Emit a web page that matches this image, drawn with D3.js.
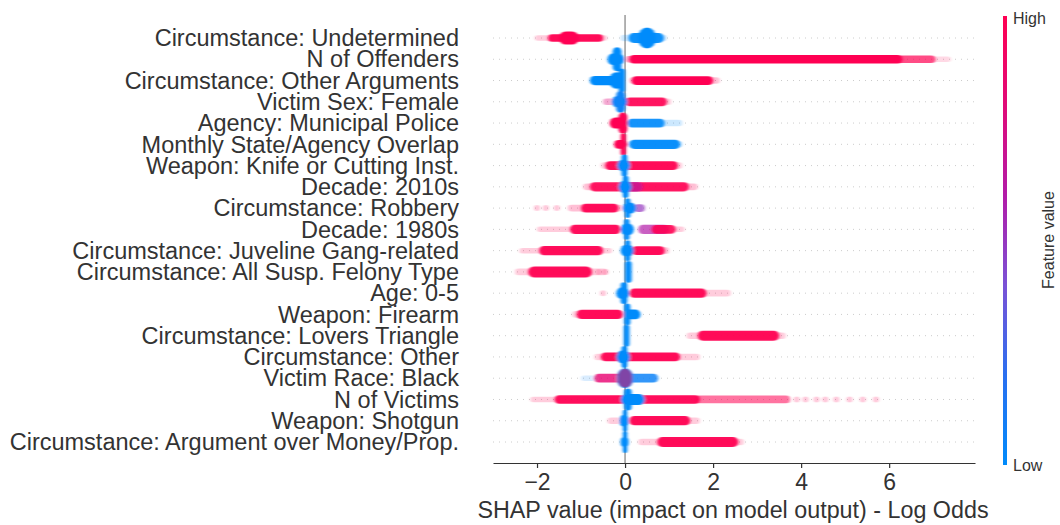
<!DOCTYPE html>
<html>
<head>
<meta charset="utf-8">
<script src="https://cdn.jsdelivr.net/npm/d3@7"></script>
<style>
  body { margin: 0; background: #fff; }
  svg { font-family: "Liberation Sans", Arial, sans-serif; }
</style>
</head>
<body>
<svg width="1060" height="525"></svg>
<script>
// SHAP summary (beeswarm) plot

var features = [
    "Circumstance: Undetermined",
    "N of Offenders",
    "Circumstance: Other Arguments",
    "Victim Sex: Female",
    "Agency: Municipal Police",
    "Monthly State/Agency Overlap",
    "Weapon: Knife or Cutting Inst.",
    "Decade: 2010s",
    "Circumstance: Robbery",
    "Decade: 1980s",
    "Circumstance: Juveline Gang-related",
    "Circumstance: All Susp. Felony Type",
    "Age: 0-5",
    "Weapon: Firearm",
    "Circumstance: Lovers Triangle",
    "Circumstance: Other",
    "Victim Race: Black",
    "N of Victims",
    "Weapon: Shotgun",
    "Circumstance: Argument over Money/Prop."
];

var xTicks = [-2, 0, 2, 4, 6];

// clusters of points: [feature index, shap from, shap to, density (0-1), feature value (0 low - 1 high), opacity]
var clusters = [
    [0, -2.05, -0.4, 0.25, 1, 0.2], [0, -1.75, -0.5, 0.35, 1, 0.95], [0, -1.5, -1.05, 0.6, 1, 1],
    [0, -0.1, 0.95, 0.3, 0, 0.2], [0, 0.08, 0.88, 0.45, 0, 0.95], [0, 0.3, 0.7, 0.95, 0, 1],

    [1, -0.4, -0.02, 0.55, 0, 1], [1, -0.28, -0.08, 1.1, 0, 1],
    [1, 0.0, 0.3, 0.3, 1, 0.4], [1, 0.1, 6.3, 0.38, 1, 1], [1, 6.2, 7.05, 0.35, 1, 0.7], [1, 7.0, 7.4, 0.25, 1, 0.15],

    [2, 0.1, 2.15, 0.3, 1, 0.25], [2, 0.15, 2.0, 0.4, 1, 1],
    [2, -0.8, -0.02, 0.42, 0, 1], [2, -0.35, -0.05, 0.75, 0, 1], [2, -0.15, 0, 1.1, 0, 1],

    [3, -0.5, -0.1, 0.3, 0.8, 0.35], [3, -0.05, 1.05, 0.3, 1, 0.2], [3, 0.0, 0.95, 0.4, 1, 0.9],
    [3, -0.3, 0.05, 0.55, 0.05, 1], [3, -0.2, 0.0, 1.0, 0.05, 1],

    [4, 0.05, 1.3, 0.3, 0, 0.2], [4, 0.05, 0.9, 0.4, 0, 0.9],
    [4, -0.35, 0.05, 0.5, 1, 1], [4, -0.15, 0.05, 0.95, 1, 1],

    [5, 0.05, 1.3, 0.3, 0, 0.25], [5, 0.1, 1.25, 0.42, 0, 0.95],
    [5, -0.25, 0.05, 0.4, 1, 1], [5, -0.1, 0.02, 1.0, 1, 1],

    [6, -0.55, 1.3, 0.3, 1, 0.2], [6, -0.45, 1.2, 0.4, 1, 0.95],
    [6, -0.18, 0.12, 0.55, 0, 1], [6, -0.08, 0.05, 1.0, 0, 1],

    [7, -0.95, 1.65, 0.3, 1, 0.25], [7, -0.8, 1.45, 0.42, 1, 0.9], [7, -0.1, 0.4, 0.45, 0.6, 0.6],
    [7, -0.15, 0.15, 0.6, 0, 1], [7, -0.05, 0.08, 1.0, 0, 1],

    [8, -1.3, -0.05, 0.3, 1, 0.25], [8, -1.0, -0.15, 0.4, 1, 0.95],
    [8, 0.2, 0.45, 0.35, 0.5, 0.7],
    [8, -0.05, 0.25, 0.5, 0, 1], [8, 0.0, 0.12, 0.9, 0, 1],

    [9, -2.0, -1.2, 0.25, 1, 0.2], [9, -1.25, -0.1, 0.42, 1, 0.95],
    [9, 0.3, 1.0, 0.42, 0.6, 0.7], [9, 0.6, 1.15, 0.4, 1, 0.9], [9, 1.1, 1.35, 0.25, 1, 0.2],
    [9, -0.1, 0.2, 0.55, 0, 1], [9, -0.02, 0.1, 0.95, 0, 1],

    [10, -2.4, -0.3, 0.25, 1, 0.2], [10, -1.95, -0.5, 0.42, 1, 0.95],
    [10, 0.15, 1.0, 0.3, 1, 0.25], [10, 0.15, 0.9, 0.4, 1, 0.95],
    [10, -0.1, 0.2, 0.55, 0, 1], [10, 0.0, 0.12, 0.95, 0, 1],

    [11, -2.5, -0.4, 0.3, 1, 0.2], [11, -2.2, -0.75, 0.5, 1, 0.95],
    [11, 0.0, 0.15, 1.0, 0, 1],

    [12, 0.1, 2.4, 0.3, 1, 0.2], [12, 0.1, 1.85, 0.42, 1, 0.95],
    [12, -0.2, 0.1, 0.55, 0, 1], [12, -0.1, 0.05, 1.0, 0, 1],

    [13, -1.2, 0.0, 0.3, 1, 0.2], [13, -1.1, -0.05, 0.42, 1, 0.95],
    [13, 0.0, 0.35, 0.45, 0, 1], [13, -0.02, 0.12, 1.0, 0, 1],

    [14, 1.4, 3.65, 0.3, 1, 0.2], [14, 1.65, 3.5, 0.45, 1, 0.95],
    [14, -0.03, 0.1, 1.0, 0, 1],

    [15, -0.7, 1.7, 0.3, 1, 0.2], [15, -0.55, 1.25, 0.4, 1, 0.95],
    [15, -0.2, 0.12, 0.6, 0, 1], [15, -0.08, 0.05, 1.0, 0, 1],

    [16, -1.0, -0.6, 0.25, 0.1, 0.15], [16, -0.7, -0.05, 0.4, 0.85, 0.8],
    [16, 0.05, 0.75, 0.4, 0.05, 0.85],
    [16, -0.18, 0.18, 0.9, 0, 1], [16, -0.16, 0.16, 0.85, 1, 0.5],

    [17, -2.15, -1.5, 0.25, 1, 0.2], [17, -1.6, 0.0, 0.38, 1, 0.95],
    [17, 0.1, 1.7, 0.38, 1, 0.95], [17, 1.6, 3.75, 0.35, 1, 0.55],
    [17, -0.1, 0.45, 0.5, 0, 1], [17, -0.02, 0.15, 1.0, 0, 1],

    [18, -0.4, 1.7, 0.3, 1, 0.2], [18, 0.1, 1.48, 0.42, 1, 0.95],
    [18, -0.12, 0.08, 0.55, 0, 1], [18, -0.05, 0.05, 1.0, 0, 1],

    [19, 0.3, 2.7, 0.3, 1, 0.2], [19, 0.73, 2.57, 0.45, 1, 0.95],
    [19, -0.1, 0.08, 0.45, 0, 1], [19, -0.05, 0.05, 1.0, 0, 1]
];

// isolated points in the tails: [feature index, shap value, feature value]
var tailPoints = [
    [8, -2.0, 1], [8, -1.8, 1], [8, -1.55, 1],
    [11, -0.6, 1], [11, -0.45, 1],
    [12, -0.5, 1],
    [17, 3.9, 1], [17, 4.1, 1], [17, 4.35, 1], [17, 4.55, 1], [17, 4.8, 1], [17, 5.1, 1], [17, 5.4, 1], [17, 5.7, 1]
];

var svg = d3.select("svg");

var x = d3.scaleLinear().domain([-3, 7.95]).range([493, 975]);
var y = d3.scalePoint().domain(d3.range(features.length)).range([38, 442]);
var thick = d3.scaleLinear().domain([0, 1]).range([0, 11]);
var color = d3.scaleLinear()
    .domain([0, 0.2, 0.4, 0.6, 0.8, 1])
    .range(["#008bfb", "#2a6ff0", "#7a52d6", "#b21ba8", "#e00a78", "#ff0052"]);

// blur filter for soft edges
var defs = svg.append("defs");
defs.append("filter").attr("id", "soft")
    .attr("x", "-20%").attr("y", "-50%").attr("width", "140%").attr("height", "200%")
    .append("feGaussianBlur").attr("stdDeviation", "1.6 0.6");

// dotted row guides
svg.append("g").selectAll("line").data(features).enter().append("line")
    .attr("x1", 493).attr("x2", 975)
    .attr("y1", function(d, i) { return y(i); })
    .attr("y2", function(d, i) { return y(i); })
    .attr("stroke", "#cccccc")
    .attr("stroke-width", 1)
    .attr("stroke-dasharray", "1 5");

// zero line
svg.append("line")
    .attr("x1", x(0)).attr("x2", x(0))
    .attr("y1", 15).attr("y2", 463)
    .attr("stroke", "#999999")
    .attr("stroke-width", 1.5);

// clusters
var marks = svg.append("g").attr("filter", "url(#soft)");
marks.selectAll("rect").data(clusters).enter().append("rect")
    .attr("x", function(d) { return x(d[1]); })
    .attr("width", function(d) { return x(d[2]) - x(d[1]); })
    .attr("y", function(d) { return y(d[0]) - thick(d[3]); })
    .attr("height", function(d) { return 2 * thick(d[3]); })
    .attr("rx", function(d) { return Math.min(thick(d[3]), (x(d[2]) - x(d[1])) / 2); })
    .attr("fill", function(d) { return color(d[4]); })
    .attr("fill-opacity", function(d) { return d[5]; });

marks.selectAll("circle").data(tailPoints).enter().append("circle")
    .attr("cx", function(d) { return x(d[1]); })
    .attr("cy", function(d) { return y(d[0]); })
    .attr("r", 3)
    .attr("fill", function(d) { return color(d[2]); })
    .attr("fill-opacity", 0.22);

// feature labels
svg.append("g").selectAll("text").data(features).enter().append("text")
    .attr("x", 459)
    .attr("y", function(d, i) { return y(i); })
    .attr("dy", "0.35em")
    .attr("text-anchor", "end")
    .attr("font-size", "23.5px")
    .attr("fill", "#333333")
    .text(function(d) { return d; });

// x axis
var xAxis = d3.axisBottom(x).tickValues(xTicks).tickSize(5).tickSizeOuter(0).tickPadding(6);
var gx = svg.append("g")
    .attr("transform", "translate(0,463)")
    .call(xAxis);
gx.select(".domain").attr("stroke", "#333").attr("stroke-width", 1.2);
gx.selectAll(".tick line").attr("stroke", "#333").attr("stroke-width", 1.2);
gx.selectAll(".tick text")
    .attr("font-size", "23px")
    .attr("font-family", "Liberation Sans, Arial, sans-serif")
    .attr("fill", "#333");

svg.append("text")
    .attr("x", 733).attr("y", 518)
    .attr("text-anchor", "middle")
    .attr("font-size", "23.3px")
    .attr("fill", "#333")
    .text("SHAP value (impact on model output) - Log Odds");

// colour bar
var grad = defs.append("linearGradient").attr("id", "cbar")
    .attr("x1", 0).attr("x2", 0).attr("y1", 1).attr("y2", 0);
grad.selectAll("stop").data(color.domain()).enter().append("stop")
    .attr("offset", function(d) { return d; })
    .attr("stop-color", function(d) { return color(d); });

svg.append("rect")
    .attr("x", 1003).attr("y", 16)
    .attr("width", 4).attr("height", 449)
    .attr("fill", "url(#cbar)");

svg.append("text").attr("x", 1013).attr("y", 18).attr("dy", "0.35em")
    .attr("font-size", "16px").attr("fill", "#333").text("High");
svg.append("text").attr("x", 1013).attr("y", 465).attr("dy", "0.35em")
    .attr("font-size", "16px").attr("fill", "#333").text("Low");
svg.append("text")
    .attr("transform", "translate(1054,240) rotate(-90)")
    .attr("text-anchor", "middle")
    .attr("font-size", "16px")
    .attr("fill", "#333")
    .text("Feature value");
</script>
</body>
</html>
